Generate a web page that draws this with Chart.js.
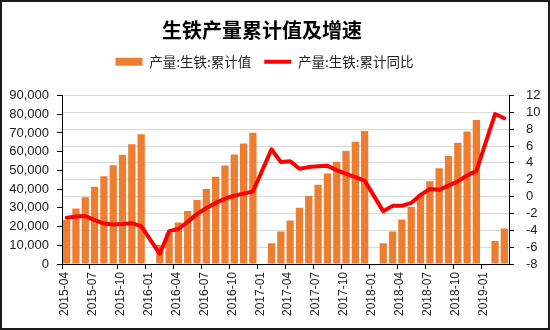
<!DOCTYPE html>
<html>
<head>
<meta charset="utf-8">
<script src="https://cdn.jsdelivr.net/npm/chart.js@4.4.1/dist/chart.umd.min.js"></script>
<style>
html,body{margin:0;padding:0;background:#fff;}
#wrap{width:550px;height:330px;position:relative;}
</style>
</head>
<body>
<div id="wrap"><canvas id="c" width="550" height="330"></canvas></div>
<script>
const categories = [
  '2015-04','2015-05','2015-06','2015-07','2015-08','2015-09','2015-10','2015-11','2015-12',
  '2016-01','2016-02','2016-03','2016-04','2016-05','2016-06','2016-07','2016-08','2016-09','2016-10','2016-11','2016-12',
  '2017-01','2017-02','2017-03','2017-04','2017-05','2017-06','2017-07','2017-08','2017-09','2017-10','2017-11','2017-12',
  '2018-01','2018-02','2018-03','2018-04','2018-05','2018-06','2018-07','2018-08','2018-09','2018-10','2018-11','2018-12',
  '2019-01','2019-02','2019-03'
];
const cumulativeOutput = [
  23500, 29700, 35600, 41200, 46900, 52700, 58400, 64000, 69300,
  null, 10200, 16500, 22200, 28300, 34200, 40100, 46600, 52600, 58500, 64400, 70100,
  null, 11100, 17300, 23300, 30100, 36300, 42300, 48400, 54600, 60400, 65300, 71100,
  null, 11100, 17300, 23800, 30500, 37000, 44200, 51100, 57700, 64800, 70800, 76900,
  null, 12300, 19000
];
const cumulativeYoY = [
  -2.5, -2.35, -2.3, -2.8, -3.2, -3.3, -3.25, -3.15, -3.5,
  null, -6.8, -4.1, -3.85, -3.0, -2.05, -1.35, -0.75, -0.25, 0.1, 0.35, 0.6,
  null, 5.6, 4.1, 4.2, 3.3, 3.5, 3.6, 3.65, 3.15, 2.7, 2.3, 1.9,
  null, -1.75, -1.1, -1.1, -0.75, 0.2, 0.9, 0.8, 1.3, 1.8, 2.5, 3.05,
  null, 9.8, 9.3
];
const leftTicks = {min: 0, max: 90000, step: 10000};
const rightTicks = {min: -8, max: 12, step: 2};
const seriesNames = ['产量:生铁:累计值', '产量:生铁:累计同比'];
const titleText = '生铁产量累计值及增速';

const frame = {
  id: 'frame',
  beforeUpdate(chart) {
    const lg = chart.legend;
    if (lg && !lg._extraWrapped) {
      const orig = lg.fit;
      lg.fit = function () { orig.call(this); this.height += 17; };
      lg._extraWrapped = true;
    }
  },
  afterLayout(chart) {
    if (chart.titleBlock) { chart.titleBlock.left = 0; chart.titleBlock.right = 524; }
    if (chart.legend) { chart.legend.left = 0; chart.legend.right = 529; }
  },
  afterDraw(chart) {
    const ctx = chart.ctx;
    ctx.save();
    ctx.strokeStyle = '#1a1a1a';
    ctx.lineWidth = 2;
    ctx.strokeRect(1, 1, chart.width - 2, chart.height - 2);
    ctx.restore();
  }
};

const axisFont = {family: '"Liberation Sans", Arial, sans-serif', size: 13};
const cjk = '"Noto Sans CJK SC", sans-serif';

new Chart(document.getElementById('c'), {
  data: {
    labels: categories,
    datasets: [
      {
        type: 'line', label: seriesNames[1], data: cumulativeYoY, yAxisID: 'y1',
        borderColor: '#ff0000', backgroundColor: '#ff0000', borderWidth: 4,
        pointRadius: 0, tension: 0, spanGaps: true, borderJoinStyle: 'round', borderCapStyle: 'round', order: 0
      },
      {
        type: 'bar', label: seriesNames[0], data: cumulativeOutput, yAxisID: 'y',
        backgroundColor: '#ed7d31', borderWidth: 0,
        categoryPercentage: 1, barPercentage: 0.78, order: 1
      }
    ]
  },
  options: {
    responsive: false,
    animation: false,
    layout: {padding: {top: 0, left: 0, right: 0, bottom: 0}},
    plugins: {
      title: {
        display: true, text: titleText, color: '#000',
        font: {family: cjk, size: 20, weight: 'bold'},
        padding: {top: 18, bottom: 0}
      },
      legend: {
        display: true, position: 'top',
        labels: {
          usePointStyle: true, pointStyleWidth: 27, boxHeight: 8,
          padding: 13, color: '#222',
          font: {family: cjk, size: 13.5},
          generateLabels(chart) {
            return [
              {text: seriesNames[0], fillStyle: '#ed7d31', strokeStyle: '#ed7d31', lineWidth: 0, pointStyle: 'rect', datasetIndex: 1, fontColor: '#222'},
              {text: seriesNames[1], fillStyle: '#ff0000', strokeStyle: '#ff0000', lineWidth: 4, pointStyle: 'line', datasetIndex: 0, fontColor: '#222'}
            ];
          }
        }
      },
      tooltip: {enabled: false}
    },
    scales: {
      x: {
        type: 'category', offset: true,
        afterFit(s) { s.height = 66; },
        grid: {
          offset: true, drawOnChartArea: false, tickLength: 5,
          color: (ctx) => (ctx.index % 3 === 0 ? '#000' : 'rgba(0,0,0,0)')
        },
        border: {display: true, color: '#000', width: 1},
        ticks: {
          autoSkip: false, maxRotation: 90, minRotation: 90, padding: 3,
          labelOffset: -2, color: '#222',
          font: {family: '"Liberation Sans", Arial, sans-serif', size: 12},
          callback(v, i) { return i % 3 === 0 ? categories[i] : ''; }
        }
      },
      y: {
        position: 'left', min: leftTicks.min, max: leftTicks.max,
        afterFit(s) { s.width = 62; },
        grid: {drawOnChartArea: false, tickLength: 5, color: '#000'},
        border: {display: true, color: '#000', width: 1},
        ticks: {
          autoSkip: false, stepSize: leftTicks.step, padding: 8, color: '#222', font: axisFont,
          callback(v) { return v.toLocaleString('en-US'); }
        }
      },
      y1: {
        position: 'right', min: rightTicks.min, max: rightTicks.max,
        afterFit(s) { s.width = 41; },
        grid: {drawOnChartArea: true, tickLength: 5, color: '#d9d9d9', tickColor: '#000', lineWidth: 1},
        border: {display: true, color: '#000', width: 1},
        ticks: {autoSkip: false, stepSize: rightTicks.step, padding: 12, color: '#222', font: axisFont}
      }
    }
  },
  plugins: [frame]
});
</script>
</body>
</html>
